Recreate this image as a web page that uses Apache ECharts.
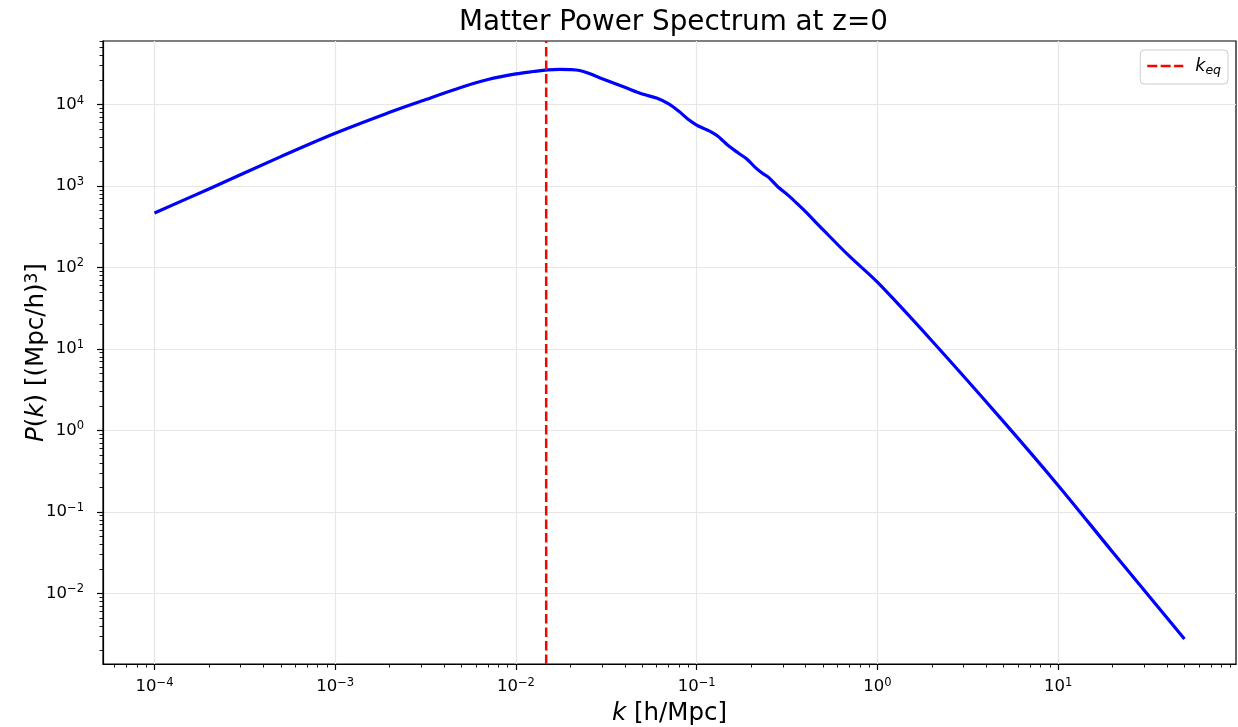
<!DOCTYPE html>
<html>
<head>
<meta charset="utf-8">
<title>Matter Power Spectrum</title>
<script src="https://cdn.jsdelivr.net/npm/echarts@6/dist/echarts.min.js"></script>
<style>
  html, body { margin: 0; padding: 0; background: #ffffff; }
  #chart { width: 1238px; height: 727px; }
</style>
</head>
<body>
<div id="chart"></div>
<script>
// Wavenumber k [h/Mpc]
const kValues = [1e-4, 2e-4, 5e-4, 1e-3, 2e-3, 3e-3, 5e-3, 7e-3, 0.01, 0.0125, 0.015, 0.0175,
  0.02, 0.0225, 0.025, 0.03, 0.04, 0.05, 0.06, 0.07, 0.08, 0.09, 0.1, 0.11, 0.12, 0.13,
  0.14, 0.15, 0.17, 0.19, 0.21, 0.23, 0.25, 0.28, 0.32, 0.36, 0.4, 0.5, 0.7, 1, 2, 5,
  10, 20, 50];
// Linear matter power spectrum P(k) [(Mpc/h)^3] at z = 0
const pValues = [467, 921, 2296, 4440, 8020, 11040, 16320, 20280, 23760, 25430, 26690, 27060,
  26840, 26160, 24440, 20750, 16270, 13460, 12020, 10170, 8205, 6543, 5600, 5058, 4620, 4138,
  3581, 3118, 2543, 2134, 1707, 1444, 1276, 988, 773, 608, 484.7, 291.3, 137.6, 65.97, 12.61, 1.275,
  0.2117, 0.03226, 0.002753];
// Matter-radiation equality scale [h/Mpc]
const kEq = [0.0147];
// Axis limits (data units)
const xLimits = [5.19e-5, 96.4];
const yLimits = [1.361e-3, 60260];
// Decades that carry labelled ticks
const xTickExponents = [-4, -3, -2, -1, 0, 1];
const yTickExponents = [-2, -1, 0, 1, 2, 3, 4];

const log10 = Math.log10;
const xMin = log10(xLimits[0]), xMax = log10(xLimits[1]);
const yMin = log10(yLimits[0]), yMax = log10(yLimits[1]);

// log-spaced minor tick positions (2..9 x 10^n) inside [lo, hi]
function minorPositions(lo, hi) {
  const out = [];
  for (let n = Math.floor(lo) - 1; n <= Math.ceil(hi); n++) {
    for (let m = 2; m <= 9; m++) {
      const v = n + log10(m);
      if (v > lo && v < hi) out.push(v);
    }
  }
  return out;
}

const FONT = 'DejaVu Sans';
const tickRich = {
  b: { fontFamily: FONT, fontSize: 16.5, color: '#000', lineHeight: 20 },
  s: { fontFamily: FONT, fontSize: 11.5, color: '#000', lineHeight: 11, verticalAlign: 'top' }
};
function powLabel(v) {
  const e = Math.round(v);
  const s = e < 0 ? '\u2212' + (-e) : String(e);
  return '{b|10}{s|' + s + '}';
}

const spectrum = kValues.map((k, i) => [log10(k), log10(pValues[i])]);
const eqLine = [[log10(kEq[0]), yMin], [log10(kEq[0]), yMax]];

const gridLine = { show: true, lineStyle: { color: '#e6e6e6', width: 1.2 } };

const option = {
  animation: false,
  backgroundColor: '#ffffff',
  title: {
    text: 'Matter Power Spectrum at z=0',
    left: 454,
    top: 4,
    textStyle: { fontFamily: FONT, fontSize: 27.8, fontWeight: 'normal', color: '#000' }
  },
  legend: {
    data: ['k_eq'],
    right: 10,
    top: 50,
    orient: 'vertical',
    icon: 'path://M0,0h10v2.6h-10z M13.4,0h10v2.6h-10z M26.8,0h9.2v2.6h-9.2z',
    itemWidth: 36,
    itemHeight: 2.6,
    backgroundColor: '#ffffff',
    borderColor: '#cccccc',
    borderWidth: 1,
    borderRadius: 4,
    padding: [7, 7, 7, 7],
    formatter: () => '{k|k}{e|eq}',
    textStyle: {
      rich: {
        k: { fontFamily: FONT, fontSize: 17.5, fontStyle: 'italic', color: '#000', lineHeight: 22, padding: [0, 0, 0, 7] },
        e: { fontFamily: FONT, fontSize: 12.5, fontStyle: 'italic', color: '#000', lineHeight: 13, verticalAlign: 'bottom' }
      }
    }
  },
  grid: {
    left: 103, right: 2, top: 41, bottom: 63,
    containLabel: false,
    outerBoundsMode: 'none',
    show: true, borderColor: '#000', borderWidth: 1.2, backgroundColor: 'transparent'
  },
  xAxis: [
    {
      type: 'value', min: xMin, max: xMax, minInterval: 1, maxInterval: 1,
      position: 'bottom',
      name: '{i|k} [h/Mpc]',
      nameLocation: 'middle',
      nameGap: 37,
      nameMoveOverlap: false,
      nameTextStyle: {
        fontFamily: FONT, fontSize: 24.5, color: '#000',
        rich: { i: { fontFamily: FONT, fontSize: 24.5, fontStyle: 'italic', color: '#000' } }
      },
      axisLine: { show: true, onZero: false, lineStyle: { color: '#000', width: 1.2 } },
      axisTick: { show: true, length: 6, customValues: xTickExponents, lineStyle: { color: '#000', width: 1.2 } },
      axisLabel: { show: true, margin: 13, customValues: xTickExponents, formatter: powLabel, rich: tickRich },
      splitLine: gridLine
    },
    {
      type: 'value', min: xMin, max: xMax, minInterval: 1, maxInterval: 1,
      position: 'bottom', offset: 0,
      axisLine: { show: false, onZero: false },
      axisTick: { show: true, length: 3.5, customValues: minorPositions(xMin, xMax), lineStyle: { color: '#000', width: 0.9 } },
      axisLabel: { show: false },
      splitLine: { show: false }
    }
  ],
  yAxis: [
    {
      type: 'value', min: yMin, max: yMax, minInterval: 1, maxInterval: 1,
      position: 'left',
      name: '{i|P}({i|k}) [(Mpc/h){s|3}]',
      nameLocation: 'middle',
      nameRotate: 90,
      nameGap: 54,
      nameMoveOverlap: false,
      nameTextStyle: {
        fontFamily: FONT, fontSize: 24.5, color: '#000',
        rich: {
          i: { fontFamily: FONT, fontSize: 24.5, fontStyle: 'italic', color: '#000' },
          s: { fontFamily: FONT, fontSize: 17, color: '#000', verticalAlign: 'top', lineHeight: 16 }
        }
      },
      axisLine: { show: true, onZero: false, lineStyle: { color: '#000', width: 1.2 } },
      axisTick: { show: true, length: 6, customValues: yTickExponents, lineStyle: { color: '#000', width: 1.2 } },
      axisLabel: { show: true, margin: 19, customValues: yTickExponents, formatter: powLabel, rich: tickRich },
      splitLine: gridLine
    },
    {
      type: 'value', min: yMin, max: yMax, minInterval: 1, maxInterval: 1,
      position: 'left', offset: 0,
      axisLine: { show: false, onZero: false },
      axisTick: { show: true, length: 3.5, customValues: minorPositions(yMin, yMax), lineStyle: { color: '#000', width: 0.9 } },
      axisLabel: { show: false },
      splitLine: { show: false }
    }
  ],
  series: [
    {
      name: 'P(k)',
      type: 'line',
      xAxisIndex: 0, yAxisIndex: 0,
      data: spectrum,
      smooth: 0.35,
      symbol: 'none',
      lineStyle: { color: '#0000ff', width: 3.2 },
      itemStyle: { color: '#0000ff' },
      z: 3
    },
    {
      name: 'k_eq',
      type: 'line',
      xAxisIndex: 0, yAxisIndex: 0,
      data: eqLine,
      symbol: 'none',
      lineStyle: { color: '#ff0000', width: 2.5, type: [9.5, 4] },
      itemStyle: { color: '#ff0000' },
      z: 4
    }
  ]
};

const chart = echarts.init(document.getElementById('chart'), null, { renderer: 'canvas' });
chart.setOption(option);
</script>
</body>
</html>
